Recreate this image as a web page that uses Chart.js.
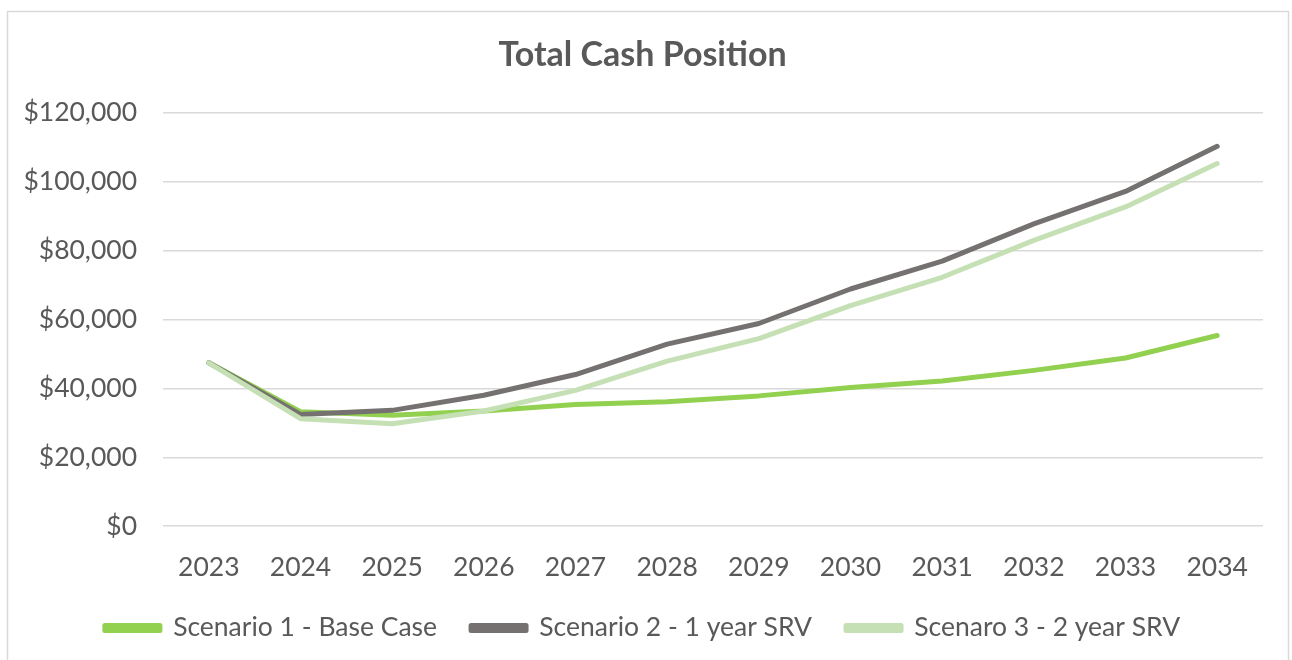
<!DOCTYPE html>
<html>
<head>
<meta charset="utf-8">
<script src="https://cdn.jsdelivr.net/npm/chart.js@4/dist/chart.umd.min.js"></script>
<style>
  html, body { margin: 0; padding: 0; background: #fff; }
  #wrap { position: relative; width: 1292px; height: 660px; }
</style>
</head>
<body>
<div id="wrap"><canvas id="chart"></canvas></div>
<script>
const years = ["2023", "2024", "2025", "2026", "2027", "2028", "2029", "2030", "2031", "2032", "2033", "2034"];
const scenario1 = [47400, 33200, 32200, 33400, 35300, 36100, 37800, 40200, 42100, 45200, 48800, 55300];
const scenario2 = [47400, 32400, 33600, 38000, 44000, 52800, 58800, 68800, 76900, 87700, 97100, 110200];
const scenario3 = [47400, 31200, 29700, 33400, 39400, 47900, 54400, 64000, 72200, 82900, 92600, 105200];
const seriesNames = ["Scenario 1 - Base Case", "Scenario 2 - 1 year SRV", "Scenaro 3 - 2 year SRV"];
const colors = ["#92d050", "#767171", "#c5e0b4"];

const FONT = "Lato, 'Open Sans', sans-serif";
const TEXT = "#595959";
const FS = 26.5;

// light grey frame like the excel chart border
const framePlugin = {
  id: "frame",
  beforeDraw(chart) {
    const ctx = chart.ctx;
    ctx.save();
    ctx.strokeStyle = "#d9d9d9";
    ctx.lineWidth = 1.5;
    ctx.strokeRect(7.5, 11.5, 1281, 700);
    ctx.restore();
  }
};

function makeSet(i, data) {
  return {
    label: seriesNames[i],
    data: data,
    borderColor: colors[i],
    backgroundColor: colors[i],
    borderWidth: 5,
    pointRadius: 0,
    tension: 0,
    borderCapStyle: "round",
    borderJoinStyle: "round",
    order: 3 - i
  };
}

const ctx = document.getElementById("chart").getContext("2d");
new Chart(ctx, {
  type: "line",
  data: {
    labels: years,
    datasets: [makeSet(0, scenario1), makeSet(1, scenario2), makeSet(2, scenario3)]
  },
  options: {
    responsive: true,
    maintainAspectRatio: false,
    animation: false,
    layout: { padding: { top: 11, right: 29, bottom: 8.8, left: 22 } },
    plugins: {
      title: {
        display: true,
        text: "Total Cash Position",
        color: TEXT,
        font: { family: FONT, size: 34, weight: "bold" },
        padding: { top: 23.6, bottom: 37.1 }
      },
      legend: {
        position: "bottom",
        labels: {
          color: TEXT,
          font: { family: FONT, size: FS },
          boxWidth: 55,
          boxHeight: 5,
          padding: 34,
          sort: (a, b) => a.datasetIndex - b.datasetIndex
        }
      },
      tooltip: { enabled: false }
    },
    scales: {
      x: {
        offset: true,
        afterFit(scale) { scale.height = 54.5; },
        grid: { display: false, drawTicks: false },
        border: { display: false },
        ticks: { color: TEXT, font: { family: FONT, size: FS, lineHeight: 1 }, padding: 28, maxRotation: 0 }
      },
      y: {
        min: 0,
        max: 120000,
        afterFit(scale) { scale.width = 141; },
        grid: { color: "#d9d9d9", lineWidth: 1.5, drawTicks: false },
        border: { display: false },
        ticks: {
          stepSize: 20000,
          color: TEXT,
          font: { family: FONT, size: FS },
          padding: 26,
          callback: (v) => "$" + Number(v).toLocaleString("en-US")
        }
      }
    }
  },
  plugins: [framePlugin]
});
</script>
</body>
</html>
